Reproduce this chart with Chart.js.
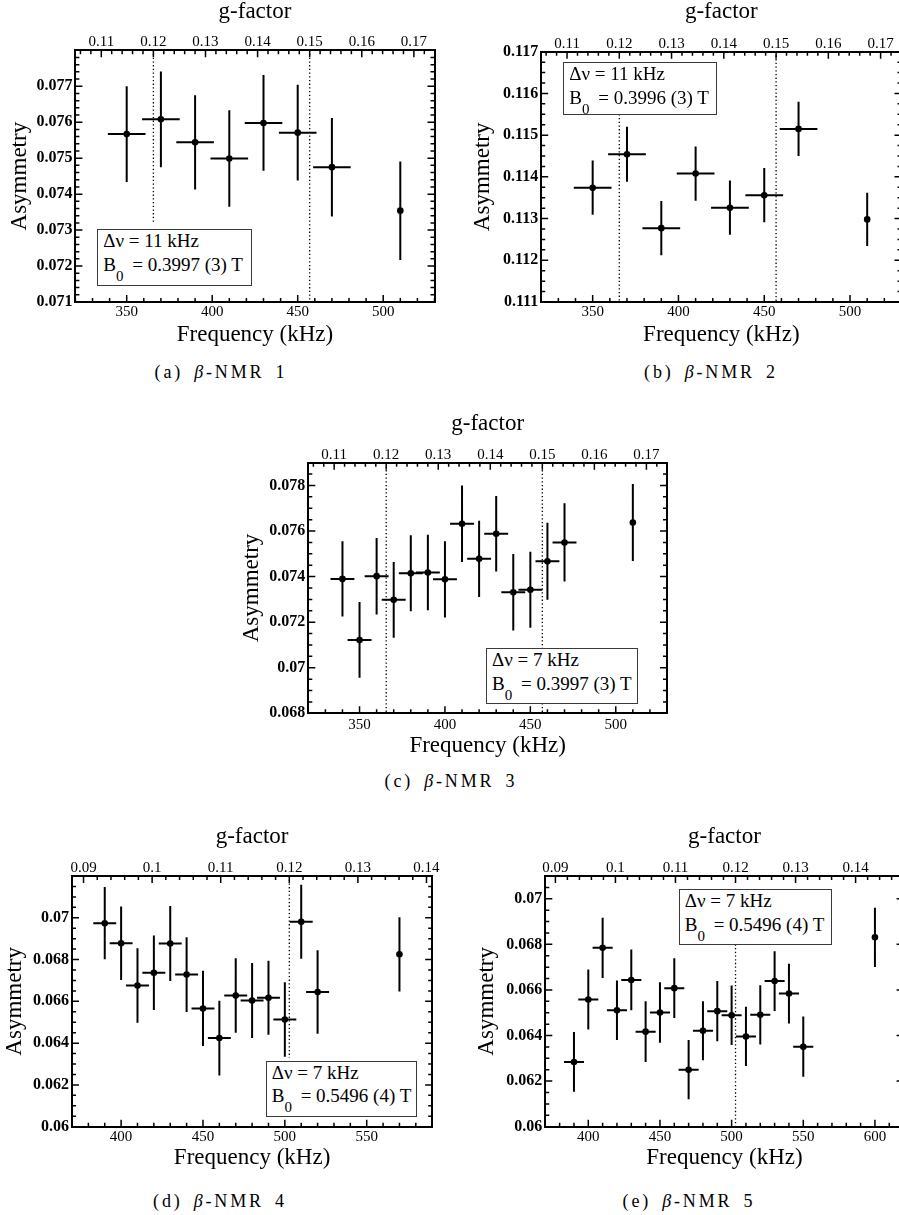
<!DOCTYPE html>
<html>
<head>
<meta charset="utf-8">
<title>β-NMR asymmetry spectra</title>
<script src="https://cdn.jsdelivr.net/npm/chart.js@4.4.1/dist/chart.umd.min.js"></script>
<style>
  html, body { margin:0; padding:0; overflow:hidden; background:#fff; }
  body { position:relative; width:899px; height:1215px; font-family:'Liberation Serif','Times New Roman',serif; color:#000; }
  canvas { position:absolute; display:block; }
  .note { position:absolute; background:#fff; border:1.5px solid #3a3a3a; box-sizing:border-box; font-size:19px; white-space:nowrap; z-index:2; }
  .note div { position:absolute; left:5px; line-height:20px; }
  .note .sub { position:relative; top:10px; font-size:15px; margin-right:4px; }
  .cap { position:absolute; width:260px; text-align:center; font-size:18px; letter-spacing:2.8px; word-spacing:4px; line-height:20px; white-space:nowrap; }
</style>
</head>
<body>
<script>
// ---------------- measured spectra ----------------
// β-NMR 1
const freq1 = [350, 370, 390, 410, 430, 450, 470, 510];
const asym1 = [0.07567, 0.07608, 0.07544, 0.07499, 0.07598, 0.07571, 0.07475, 0.07354];
const err1  = [0.00133, 0.00133, 0.00131, 0.00134, 0.00133, 0.00133, 0.00137, 0.00137];
const dnu1  = [11, 11, 11, 11, 11, 11, 11, 0];

// β-NMR 2
const freq2 = [350, 370, 390, 410, 430, 450, 470, 510];
const asym2 = [0.11374, 0.11454, 0.11277, 0.11408, 0.11326, 0.11356, 0.11515, 0.11298];
const err2  = [0.00065, 0.00066, 0.00065, 0.00065, 0.00065, 0.00065, 0.00065, 0.00064];
const dnu2  = [11, 11, 11, 11, 11, 11, 11, 0];

// β-NMR 3
const freq3 = [340, 350, 360, 370, 380, 390, 400, 410, 420, 430, 440, 450, 460, 470, 510];
const asym3 = [0.0739, 0.07122, 0.07402, 0.07298, 0.07415, 0.07418, 0.07388, 0.07632, 0.07478, 0.07588, 0.07331, 0.07342, 0.07467, 0.0755, 0.07637];
const err3  = [0.00165, 0.00166, 0.00168, 0.00166, 0.00167, 0.00166, 0.00167, 0.00168, 0.00167, 0.00166, 0.00168, 0.00167, 0.00169, 0.00172, 0.00169];
const dnu3  = [7, 7, 7, 7, 7, 7, 7, 7, 7, 7, 7, 7, 7, 7, 0];

// β-NMR 4
const freq4 = [390, 400, 410, 420, 430, 440, 450, 460, 470, 480, 490, 500, 510, 520, 570];
const asym4 = [0.06974, 0.06878, 0.06676, 0.06737, 0.06877, 0.06728, 0.06566, 0.06424, 0.06628, 0.06604, 0.06617, 0.06513, 0.06981, 0.06645, 0.06825];
const err4  = [0.00173, 0.00176, 0.00178, 0.00178, 0.00179, 0.00179, 0.0018, 0.00179, 0.00178, 0.00179, 0.00177, 0.00178, 0.00177, 0.002, 0.00178];
const dnu4  = [7, 7, 7, 7, 7, 7, 7, 7, 7, 7, 7, 7, 7, 7, 0];

// β-NMR 5
const freq5 = [390, 400, 410, 420, 430, 440, 450, 460, 470, 480, 490, 500, 510, 520, 530, 540, 550, 600];
const asym5 = [0.06284, 0.06558, 0.06785, 0.06511, 0.06644, 0.06417, 0.06501, 0.06608, 0.0625, 0.06421, 0.06507, 0.06489, 0.06396, 0.06491, 0.06639, 0.06584, 0.06351, 0.06831];
const err5  = [0.00131, 0.00132, 0.00132, 0.00131, 0.00133, 0.00133, 0.00133, 0.00131, 0.0013, 0.00129, 0.00132, 0.00131, 0.0013, 0.0013, 0.00131, 0.00131, 0.00132, 0.0013];
const dnu5  = [7, 7, 7, 7, 7, 7, 7, 7, 7, 7, 7, 7, 7, 7, 7, 7, 7, 0];

// ---------------- tick labels ----------------
const freqTicksA = [350, 400, 450, 500];
const freqTicksD = [400, 450, 500, 550];
const freqTicksE = [400, 450, 500, 550, 600];
const gTicksA = [0.11, 0.12, 0.13, 0.14, 0.15, 0.16, 0.17];
const gTicksD = [0.09, 0.1, 0.11, 0.12, 0.13, 0.14];
const asymTicks1 = [0.071, 0.072, 0.073, 0.074, 0.075, 0.076, 0.077];
const asymTicks2 = [0.111, 0.112, 0.113, 0.114, 0.115, 0.116, 0.117];
const asymTicks3 = [0.068, 0.07, 0.072, 0.074, 0.076, 0.078];
const asymTicks4 = [0.06, 0.062, 0.064, 0.066, 0.068, 0.07];
const asymTicks5 = [0.06, 0.062, 0.064, 0.066, 0.068, 0.07];

// nuclear magneton / h in kHz per tesla: g = f / (B0 * MU_N_H)
const MU_N_H = 7622.59;
const SERIF = "'Liberation Serif', 'Times New Roman', serif";

// ---------------- panel definitions ----------------
const panels = [
  { freq: freq1, asym: asym1, err: err1, dnu: dnu1, field: 0.3997,
    xRange: [320, 530], yRange: [0.071, 0.078], xTicks: freqTicksA, gTicks: gTicksA, yTicks: asymTicks1,
    minor: { x: 10, g: 0.002, y: 0.0002 },
    lines: [{ g: 0.12, from: 0.07319, to: 0.078 }, { g: 0.15, from: 0.071, to: 0.078 }],
    box: [6, -2, 448, 349], area: [75.4, 50.3, 434.5, 302], padTop: 0.6, padBottom: 2.3,
    note: { rect: [97.3, 229.3, 154.4, 56.4], dnu: '11 kHz', b0: '0.3997 (3) T' },
    caption: { cx: 221, cy: 372, label: 'a', n: 1 } },
  { freq: freq2, asym: asym2, err: err2, dnu: dnu2, field: 0.3996,
    xRange: [320, 530], yRange: [0.111, 0.117], xTicks: freqTicksA, gTicks: gTicksA, yTicks: asymTicks2,
    minor: { x: 10, g: 0.002, y: 0.00025 },
    lines: [{ g: 0.12, from: 0.111, to: 0.1155 }, { g: 0.15, from: 0.111, to: 0.117 }],
    box: [469, -2, 915, 349], area: [541.2, 51.7, 901.5, 302], padTop: 0.6, padBottom: 2.3,
    note: { rect: [563.3, 62.3, 154, 52.7], dnu: '11 kHz', b0: '0.3996 (3) T' },
    caption: { cx: 711, cy: 372, label: 'b', n: 2 } },
  { freq: freq3, asym: asym3, err: err3, dnu: dnu3, field: 0.3997,
    xRange: [320, 530], yRange: [0.068, 0.079], xTicks: freqTicksA, gTicks: gTicksA, yTicks: asymTicks3,
    minor: { x: 10, g: 0.002, y: 0.0005 },
    lines: [{ g: 0.12, from: 0.068, to: 0.079 }, { g: 0.15, from: 0.068, to: 0.079 }],
    box: [238, 410, 680, 760], area: [308.3, 462.7, 667, 713.3], padTop: 0.3, padBottom: 4.5,
    note: { rect: [486, 648.3, 152.3, 55.7], dnu: '7 kHz', b0: '0.3997 (3) T' },
    caption: { cx: 451, cy: 781, label: 'c', n: 3 } },
  { freq: freq4, asym: asym4, err: err4, dnu: dnu4, field: 0.5496,
    xRange: [370, 590], yRange: [0.06, 0.072], xTicks: freqTicksD, gTicks: gTicksD, yTicks: asymTicks4,
    minor: { x: 10, g: 0.002, y: 0.0005 },
    lines: [{ g: 0.12, from: 0.0633, to: 0.072 }],
    box: [1, 823, 446, 1172], area: [72, 876, 432.2, 1126.7], padTop: 0.3, padBottom: 3,
    note: { rect: [265.7, 1060.7, 151, 56], dnu: '7 kHz', b0: '0.5496 (4) T' },
    caption: { cx: 220, cy: 1201, label: 'd', n: 4 } },
  { freq: freq5, asym: asym5, err: err5, dnu: dnu5, field: 0.5496,
    xRange: [370, 620], yRange: [0.06, 0.071], xTicks: freqTicksE, gTicks: gTicksD, yTicks: asymTicks5,
    minor: { x: 10, g: 0.002, y: 0.0005 },
    lines: [{ g: 0.12, from: 0.06, to: 0.068 }],
    box: [473, 823, 915, 1172], area: [545.3, 876, 903.6, 1126.7], padTop: 0.3, padBottom: 3,
    note: { rect: [678.7, 889, 153, 56], dnu: '7 kHz', b0: '0.5496 (4) T' },
    caption: { cx: 689, cy: 1201, label: 'e', n: 5 } }
];

// ---------------- drawing helpers ----------------
// horizontal (frequency bin) and vertical (statistical) error bars
function errorBarPlugin(p) {
  return {
    id: 'errorBars',
    beforeDatasetsDraw(chart) {
      const { ctx, scales: { x, y } } = chart;
      ctx.save();
      ctx.strokeStyle = '#000';
      ctx.lineWidth = 2;
      ctx.beginPath();
      p.freq.forEach((f, i) => {
        const px = x.getPixelForValue(f);
        const py = y.getPixelForValue(p.asym[i]);
        ctx.moveTo(px, y.getPixelForValue(p.asym[i] - p.err[i]));
        ctx.lineTo(px, y.getPixelForValue(p.asym[i] + p.err[i]));
        if (p.dnu[i] > 0) {
          ctx.moveTo(x.getPixelForValue(f - p.dnu[i]), py);
          ctx.lineTo(x.getPixelForValue(f + p.dnu[i]), py);
        }
      });
      ctx.stroke();
      ctx.restore();
    }
  };
}

// dotted markers at fixed g-factor values
function refLinePlugin(p) {
  return {
    id: 'refLines',
    beforeDatasetsDraw(chart) {
      const { ctx, scales: { x2, y } } = chart;
      ctx.save();
      ctx.strokeStyle = '#000';
      ctx.lineWidth = 1.3;
      ctx.setLineDash([1.3, 2.4]);
      p.lines.forEach(l => {
        const px = x2.getPixelForValue(l.g);
        ctx.beginPath();
        ctx.moveTo(px, y.getPixelForValue(l.to));
        ctx.lineTo(px, y.getPixelForValue(l.from));
        ctx.stroke();
      });
      ctx.restore();
    }
  };
}

// inward-pointing major and minor tick marks on all four sides of the frame
function frameTickPlugin(p) {
  const MAJOR = 7, MINOR = 4;
  return {
    id: 'frameTicks',
    afterDraw(chart) {
      const { ctx, chartArea: a, scales } = chart;
      const side = (scale, step, draw) => {
        const majors = scale.ticks.map(t => t.value);
        const k0 = Math.ceil(scale.min / step - 1e-6);
        const k1 = Math.floor(scale.max / step + 1e-6);
        for (let k = k0; k <= k1; k++) {
          const v = k * step;
          if (majors.some(m => Math.abs(m - v) < step * 1e-3)) continue;
          draw(scale.getPixelForValue(v), MINOR);
        }
        majors.forEach(v => draw(scale.getPixelForValue(v), MAJOR));
      };
      ctx.save();
      ctx.strokeStyle = '#000';
      ctx.lineWidth = 1.5;
      ctx.beginPath();
      side(scales.x, p.minor.x, (px, L) => { ctx.moveTo(px, a.bottom); ctx.lineTo(px, a.bottom - L); });
      side(scales.x2, p.minor.g, (px, L) => { ctx.moveTo(px, a.top); ctx.lineTo(px, a.top + L); });
      side(scales.y, p.minor.y, (py, L) => { ctx.moveTo(a.left, py); ctx.lineTo(a.left + L, py); });
      side(scales.y2, p.minor.y, (py, L) => { ctx.moveTo(a.right, py); ctx.lineTo(a.right - L, py); });
      ctx.stroke();
      ctx.restore();
    }
  };
}

const fmt = v => String(+Number(v).toFixed(5));
const setTicks = vals => s => { s.ticks = vals.map(v => ({ value: v })); };
const border = { display: true, width: 2, color: '#000' };
const noGrid = { display: false, drawTicks: false };
const titleFont = { family: SERIF, size: 23, lineHeight: 1.2 };

function buildPanel(p) {
  const [cl, ct, cr, cb] = p.box;
  const [al, at, ar, ab] = p.area;
  const cv = document.createElement('canvas');
  cv.width = cr - cl;
  cv.height = cb - ct;
  cv.style.left = cl + 'px';
  cv.style.top = ct + 'px';
  cv.style.width = cv.width + 'px';
  cv.style.height = cv.height + 'px';
  document.body.appendChild(cv);

  const gUnit = p.field * MU_N_H;

  new Chart(cv, {
    type: 'scatter',
    data: {
      datasets: [{
        data: p.freq.map((f, i) => ({ x: f, y: p.asym[i] })),
        pointRadius: 3.3,
        pointHoverRadius: 3.3,
        pointBackgroundColor: '#000',
        pointBorderWidth: 0,
        showLine: false
      }]
    },
    options: {
      responsive: false,
      animation: false,
      events: [],
      layout: { padding: 0 },
      plugins: { legend: { display: false }, tooltip: { enabled: false } },
      scales: {
        x: {
          type: 'linear', position: 'bottom', min: p.xRange[0], max: p.xRange[1],
          afterBuildTicks: setTicks(p.xTicks),
          afterFit: s => { s.height = cb - ab; },
          grid: noGrid, border,
          ticks: { font: { family: SERIF, size: 15, lineHeight: 1 }, color: '#000', padding: p.padBottom, autoSkip: false, maxRotation: 0, callback: fmt },
          title: { display: true, text: 'Frequency (kHz)', font: titleFont, color: '#000', padding: 0 }
        },
        x2: {
          type: 'linear', position: 'top', min: p.xRange[0] / gUnit, max: p.xRange[1] / gUnit,
          afterBuildTicks: setTicks(p.gTicks),
          afterFit: s => { s.height = at - ct; },
          grid: noGrid, border,
          ticks: { font: { family: SERIF, size: 15, lineHeight: 1 }, color: '#000', padding: p.padTop, autoSkip: false, maxRotation: 0, callback: fmt },
          title: { display: true, text: 'g-factor', font: titleFont, color: '#000', padding: 0 }
        },
        y: {
          type: 'linear', position: 'left', min: p.yRange[0], max: p.yRange[1],
          afterBuildTicks: setTicks(p.yTicks),
          afterFit: s => { s.width = al - cl; },
          grid: noGrid, border,
          ticks: { font: { family: SERIF, size: 16, weight: 'bold', lineHeight: 1.2 }, color: '#000', padding: 3, autoSkip: false, callback: fmt },
          title: { display: true, text: 'Asymmetry', font: titleFont, color: '#000', padding: 0 }
        },
        y2: {
          type: 'linear', position: 'right', min: p.yRange[0], max: p.yRange[1],
          afterBuildTicks: setTicks(p.yTicks),
          afterFit: s => { s.width = cr - ar; },
          grid: noGrid, border,
          ticks: { display: false }
        }
      }
    },
    plugins: [refLinePlugin(p), errorBarPlugin(p), frameTickPlugin(p)]
  });

  // parameter box
  const [nx, ny, nw, nh] = p.note.rect;
  const note = document.createElement('div');
  note.className = 'note';
  Object.assign(note.style, { left: nx + 'px', top: ny + 'px', width: nw + 'px', height: nh + 'px' });
  note.innerHTML =
    '<div style="top:1px">\u0394\u03bd = ' + p.note.dnu + '</div>' +
    '<div style="top:24.5px">B<span class="sub">0</span> = ' + p.note.b0 + '</div>';
  document.body.appendChild(note);

  // sub-figure caption
  const cap = document.createElement('div');
  cap.className = 'cap';
  Object.assign(cap.style, { left: (p.caption.cx - 130) + 'px', top: (p.caption.cy - 10) + 'px' });
  cap.innerHTML = '(' + p.caption.label + ') <i>\u03b2</i>-NMR ' + p.caption.n;
  document.body.appendChild(cap);
}

panels.forEach(buildPanel);
</script>
</body>
</html>
